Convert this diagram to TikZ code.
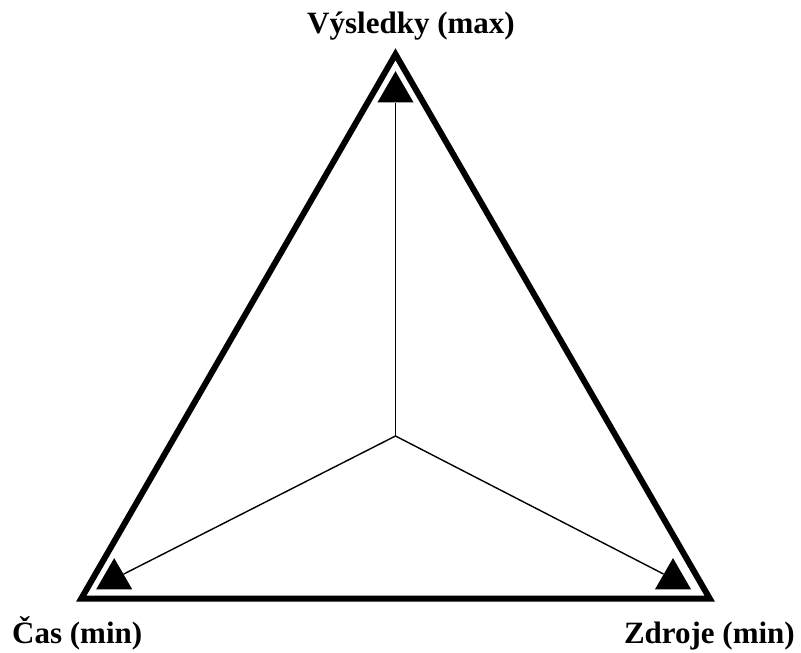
\documentclass[tikz,border=0pt]{standalone}
\usepackage{fontspec}
\setmainfont{Liberation Serif}
\usetikzlibrary{shapes.geometric}

\tikzset{
  tipmark/.style={regular polygon, regular polygon sides=3, minimum size=41.6pt,
    inner sep=0pt, fill=black, draw=none},
  cornerlabel/.style={font=\fontsize{31}{36}\selectfont\bfseries, inner sep=0pt}
}

\begin{document}
\begin{tikzpicture}[x=1pt, y=-1pt]
  \useasboundingbox (0,0) rectangle (801,653);
  % Outer triangle
  \draw[line width=6pt, miter limit=10] (395.5,54.3) -- (81.2,598.7) -- (709.8,598.7) -- cycle;
  % Markers in the corners
  \node[tipmark] (top) at (395.5,92) {};
  \node[tipmark] (left) at (114.2,578.9) {};
  \node[tipmark] (right) at (673,578.9) {};
  % Lines from the middle
  \coordinate (mid) at (395.5,436);
  \draw[line width=1.4pt] (mid) -- (top);
  \draw[line width=1.4pt] (mid) -- (left);
  \draw[line width=1.4pt] (mid) -- (right);
  % Labels
  \node[cornerlabel, anchor=base] (vys) at (411,33) {Výsledky (max)};
  \node[cornerlabel, anchor=base west] (cas) at (12,643) {Čas (min)};
  \node[cornerlabel, anchor=base east] (zdr) at (795,643) {Zdroje (min)};
\end{tikzpicture}
\end{document}
